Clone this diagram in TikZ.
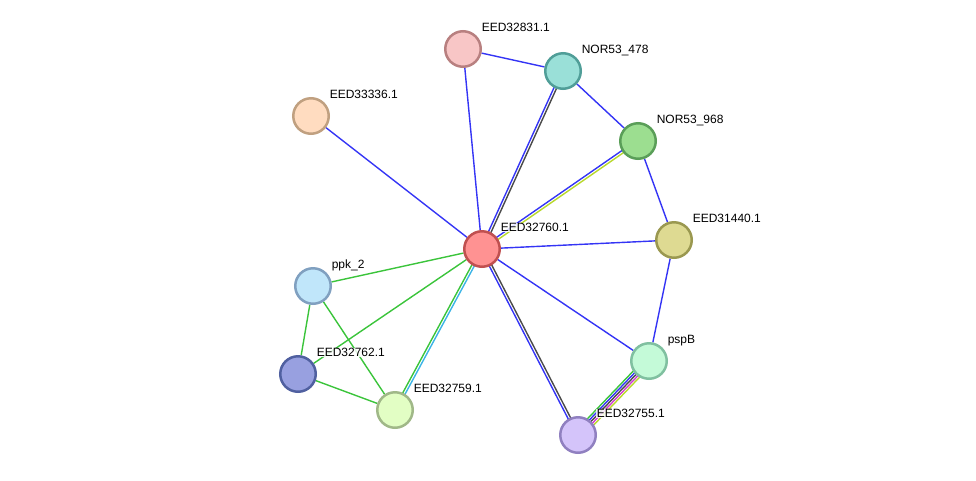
\documentclass[tikz,border=0pt]{standalone}
\usepackage{fontspec}
\setmainfont{Liberation Sans}
\usetikzlibrary{calc,backgrounds}
\definecolor{eblue}{HTML}{3434F5}
\definecolor{egreen}{HTML}{3BC43B}
\definecolor{egray}{HTML}{4A4A4A}
\definecolor{eyel}{HTML}{B8D82C}
\definecolor{ecyan}{HTML}{3CB4E6}
\definecolor{emag}{HTML}{D23CD2}
\tikzset{
  prot/.style={circle,minimum size=35.5pt,inner sep=0pt,line width=2.5pt},
  lab/.style={anchor=base west,font=\fontsize{12}{14}\selectfont,fill=white,fill opacity=0.85,text opacity=1,inner sep=0.6pt},
  edge/.style={line width=1.4pt},
}
\newcommand{\pedge}[4]{\draw[edge,#3] ($(#1)!#4!90:(#2)$) -- ($(#2)!#4!-90:(#1)$);}
\begin{document}
\begin{tikzpicture}[x=1pt,y=-1pt]
\useasboundingbox (0,0) rectangle (976,480);
% nodes
\node[prot,fill={rgb,255:red,255;green,146;blue,146},draw={rgb,255:red,192;green,80;blue,80}] (c) at (482,249) {};
\node[prot,fill={rgb,255:red,248;green,198;blue,198},draw={rgb,255:red,184;green,128;blue,128}] (a831) at (463,49) {};
\node[prot,fill={rgb,255:red,154;green,224;blue,216},draw={rgb,255:red,80;green,158;blue,152}] (n478) at (563,71) {};
\node[prot,fill={rgb,255:red,156;green,222;blue,144},draw={rgb,255:red,90;green,158;blue,88}] (n968) at (638,141) {};
\node[prot,fill={rgb,255:red,222;green,218;blue,146},draw={rgb,255:red,154;green,152;blue,80}] (a440) at (674,240) {};
\node[prot,fill={rgb,255:red,196;green,250;blue,216},draw={rgb,255:red,128;green,192;blue,160}] (psp) at (649,361) {};
\node[prot,fill={rgb,255:red,212;green,196;blue,250},draw={rgb,255:red,144;green,128;blue,192}] (a755) at (578,435) {};
\node[prot,fill={rgb,255:red,226;green,254;blue,196},draw={rgb,255:red,160;green,184;blue,136}] (a759) at (395,410) {};
\node[prot,fill={rgb,255:red,152;green,160;blue,224},draw={rgb,255:red,80;green,96;blue,160}] (a762) at (298,374) {};
\node[prot,fill={rgb,255:red,192;green,230;blue,250},draw={rgb,255:red,128;green,160;blue,192}] (ppk) at (313,286) {};
\node[prot,fill={rgb,255:red,255;green,220;blue,192},draw={rgb,255:red,192;green,160;blue,128}] (a336) at (311,116) {};
% labels
\node[lab] (lc) at ($(c)+(18,-17.5)$) {EED32760.1};
\node[lab] (l831) at ($(a831)+(18,-17.5)$) {EED32831.1};
\node[lab] (l478) at ($(n478)+(18,-17.5)$) {NOR53\_478};
\node[lab] (l968) at ($(n968)+(18,-17.5)$) {NOR53\_968};
\node[lab] (l440) at ($(a440)+(18,-17.5)$) {EED31440.1};
\node[lab] (lpsp) at ($(psp)+(18,-17.5)$) {pspB};
\node[lab] (l755) at ($(a755)+(18,-17.5)$) {EED32755.1};
\node[lab] (l759) at ($(a759)+(18,-17.5)$) {EED32759.1};
\node[lab] (l762) at ($(a762)+(18,-17.5)$) {EED32762.1};
\node[lab] (lppk) at ($(ppk)+(18,-17.5)$) {ppk\_2};
\node[lab] (l336) at ($(a336)+(18,-17.5)$) {EED33336.1};
% edges
\begin{scope}[on background layer]
\draw[edge,eblue] (a831) -- (n478);
\draw[edge,eblue] (a831) -- (c);
\draw[edge,eblue] (n478) -- (n968);
\draw[edge,eblue] (n968) -- (a440);
\draw[edge,eblue] (a440) -- (c);
\draw[edge,eblue] (a440) -- (psp);
\draw[edge,eblue] (c) -- (psp);
\draw[edge,eblue] (a336) -- (c);
\draw[edge,egreen] (ppk) -- (c);
\draw[edge,egreen] (a762) -- (c);
\draw[edge,egreen] (ppk) -- (a762);
\draw[edge,egreen] (ppk) -- (a759);
\draw[edge,egreen] (a762) -- (a759);
\pedge{c}{n478}{eblue}{1.3pt}
\pedge{c}{n478}{egray}{-1.3pt}
\pedge{c}{n968}{eblue}{1.3pt}
\pedge{c}{n968}{eyel}{-1.3pt}
\pedge{c}{a759}{egreen}{-1.3pt}
\pedge{c}{a759}{ecyan}{1.3pt}
\pedge{c}{a755}{eblue}{-1.3pt}
\pedge{c}{a755}{egray}{1.3pt}
\pedge{psp}{a755}{egreen}{-4.4pt}
\pedge{psp}{a755}{eblue}{-2.2pt}
\pedge{psp}{a755}{egray}{0pt}
\pedge{psp}{a755}{emag}{2.2pt}
\pedge{psp}{a755}{eyel}{4.4pt}
\end{scope}
\end{tikzpicture}
\end{document}
